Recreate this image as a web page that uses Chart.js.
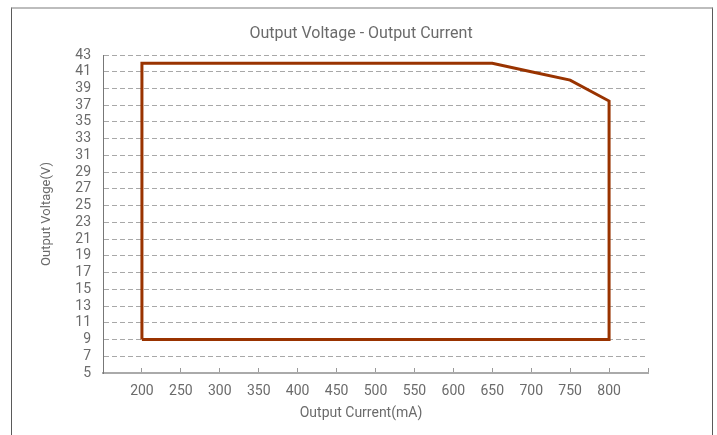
<!DOCTYPE html>
<html>
<head>
<meta charset="utf-8">
<script src="https://cdn.jsdelivr.net/npm/chart.js@4"></script>
<style>
  html, body { margin: 0; padding: 0; background: #fff; }
  #wrap { position: relative; width: 717px; height: 435px; overflow: hidden; }
  #frame {
    position: absolute; left: 11px; top: 7px; width: 700px; height: 500px;
    border-top: 2px solid #bdbdbd; border-left: 1px solid #5a5a5a; border-right: 1px solid #5a5a5a;
  }
  #chart { position: absolute; left: 0; top: 0; }
</style>
</head>
<body>
<div id="wrap">
  <div id="frame"></div>
  <canvas id="chart" width="717" height="435"></canvas>
</div>
<script>
// Operating window outline, walked clockwise from the bottom-left corner
const outlineCurrent = [200, 200, 250, 300, 350, 400, 450, 500, 550, 600, 650, 700, 750, 800,
                        800, 750, 700, 650, 600, 550, 500, 450, 400, 350, 300, 250, 200]
const outlineVoltage = [9, 42, 42, 42, 42, 42, 42, 42, 42, 42, 42, 41, 40, 37.5,
                        9, 9, 9, 9, 9, 9, 9, 9, 9, 9, 9, 9, 9]

const currentTicks = [200, 250, 300, 350, 400, 450, 500, 550, 600, 650, 700, 750, 800]
const voltageTicks = [5, 7, 9, 11, 13, 15, 17, 19, 21, 23, 25, 27, 29, 31, 33, 35, 37, 39, 41, 43]

const textColor = "#6b6b6b"
const font = { family: "Roboto, 'DejaVu Sans', sans-serif", size: 14 }

const points = outlineCurrent.map((x, i) => ({ x: x, y: outlineVoltage[i] }))

new Chart(document.getElementById("chart"), {
  type: "scatter",
  data: {
    datasets: [{
      data: points,
      showLine: true,
      borderColor: "#993300",
      backgroundColor: "#993300",
      borderWidth: 3,
      borderJoinStyle: "miter",
      pointRadius: 0,
      tension: 0
    }]
  },
  options: {
    responsive: false,
    animation: false,
    layout: { padding: { left: 5, right: 0, top: 0, bottom: 0 } },
    plugins: {
      legend: { display: false },
      tooltip: { enabled: false },
      title: {
        display: true,
        text: "Output Voltage - Output Current",
        color: textColor,
        font: { family: font.family, size: 16, weight: "normal" },
        padding: { top: 24, bottom: 11.8 }
      },
      // x axis title, centred on the whole frame like the original
      subtitle: {
        display: true,
        position: "bottom",
        text: "Output Current(mA)",
        color: textColor,
        font: font,
        padding: { top: 0, bottom: 13.6 }
      }
    },
    scales: {
      x: {
        type: "linear",
        min: 150,
        max: 850,
        afterBuildTicks: (scale) => {
          scale.ticks = [150, ...currentTicks, 850].map(v => ({ value: v }))
        },
        afterFit: (scale) => { scale.height = 31.6 },
        ticks: {
          color: textColor,
          font: font,
          padding: 15,
          maxRotation: 0,
          autoSkip: false,
          callback: (v) => currentTicks.includes(v) ? String(v) : ""
        },
        grid: { drawOnChartArea: false, drawTicks: true, tickLength: -5, color: "#9a9a9a" },
        border: { display: true, color: "#aaaaaa", width: 2 }
      },
      y: {
        type: "linear",
        min: 5,
        max: 43,
        afterBuildTicks: (scale) => {
          scale.ticks = voltageTicks.map(v => ({ value: v }))
        },
        afterFit: (scale) => { scale.width = 98 },
        ticks: { color: textColor, font: font, padding: 12, autoSkip: false },
        grid: { drawTicks: false, color: "#a8a8a8", lineWidth: 1 },
        border: { display: true, color: "#777777", width: 1, dash: [5, 3] },
        title: {
          display: true,
          text: "Output Voltage(V)",
          color: textColor,
          font: { family: font.family, size: 13 },
          padding: { top: 34, bottom: 0 }
        }
      },
      yRight: {
        position: "right",
        display: true,
        afterFit: (scale) => { scale.width = 69 },
        ticks: { display: false },
        grid: { display: false },
        border: { display: false }
      }
    }
  }
})
</script>
</body>
</html>
